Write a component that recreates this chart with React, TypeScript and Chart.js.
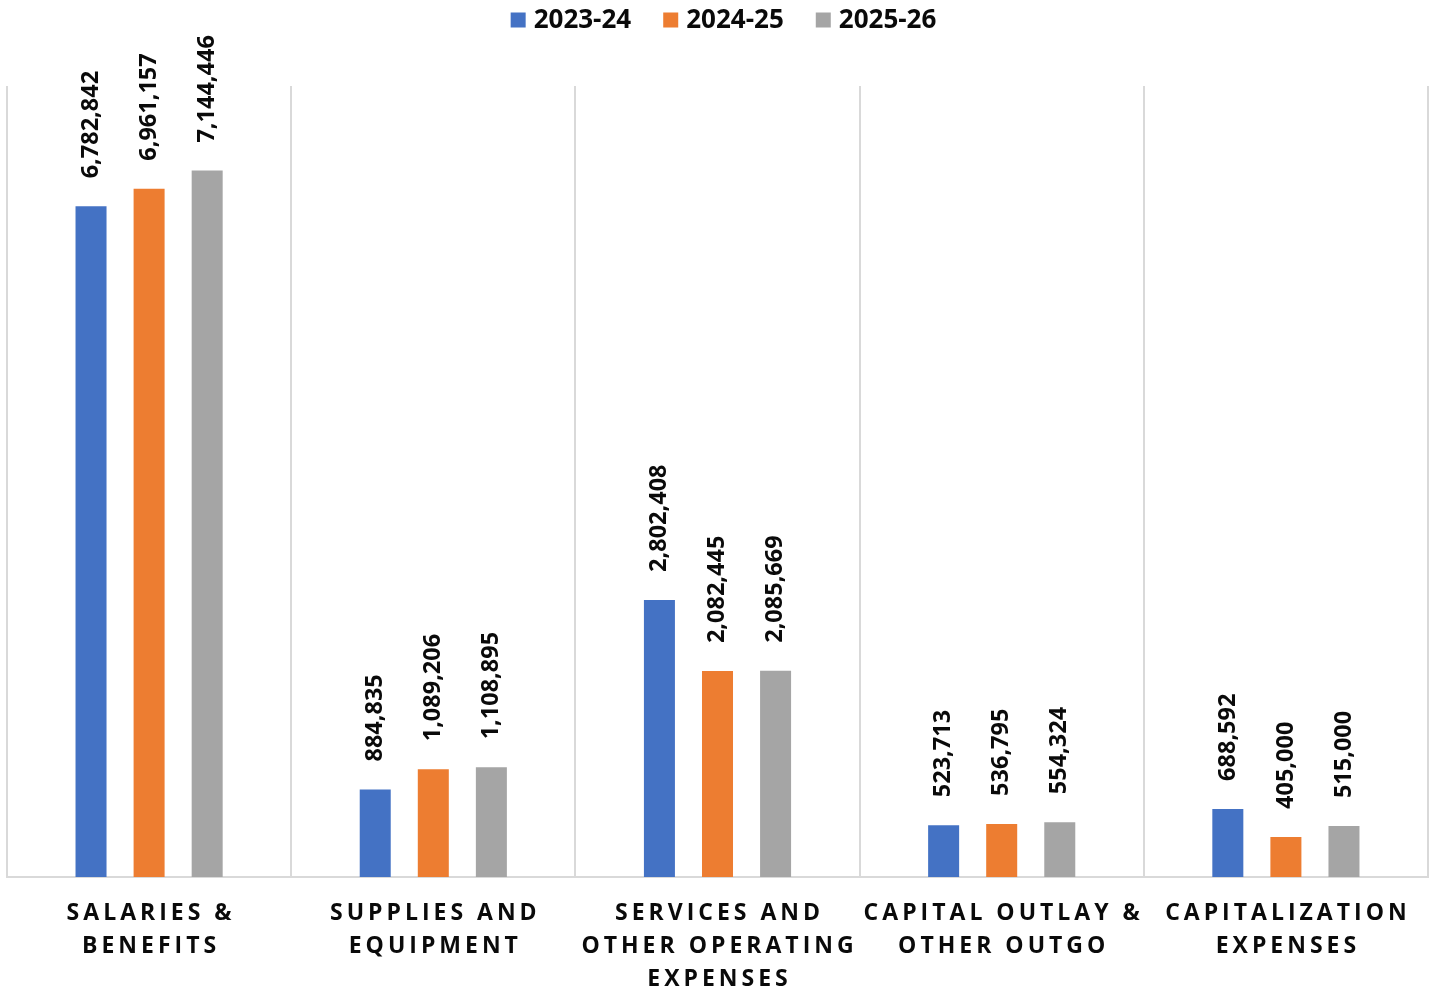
import React, { useEffect, useRef } from "react";
import { Chart, registerables } from "chart.js";

Chart.register(...registerables);

const categories: string[][] = [
  ["SALARIES &", "BENEFITS"],
  ["SUPPLIES AND", "EQUIPMENT"],
  ["SERVICES AND", "OTHER OPERATING", "EXPENSES"],
  ["CAPITAL OUTLAY &", "OTHER OUTGO"],
  ["CAPITALIZATION", "EXPENSES"],
];

const seriesNames = ["2023-24", "2024-25", "2025-26"];
const values2023 = [6782842, 884835, 2802408, 523713, 688592];
const values2024 = [6961157, 1089206, 2082445, 536795, 405000];
const values2025 = [7144446, 1108895, 2085669, 554324, 515000];
const seriesColors = ["#4472C4", "#ED7D31", "#A5A5A5"];

const FONT = "'Open Sans', 'DejaVu Sans', sans-serif";

const dataLabelPlugin = {
  id: "dataLabels",
  afterDatasetsDraw(chart: any) {
    const ctx = chart.ctx;
    ctx.save();
    ctx.font = `bold 23.5px ${FONT}`;
    ctx.fillStyle = "#0a0a0a";
    ctx.textAlign = "left";
    ctx.textBaseline = "middle";
    chart.data.datasets.forEach((ds: any, di: number) => {
      const meta = chart.getDatasetMeta(di);
      meta.data.forEach((bar: any, i: number) => {
        const v = ds.data[i];
        const txt = v.toLocaleString("en-US");
        ctx.save();
        ctx.translate(bar.x, bar.y - 28);
        ctx.rotate(-Math.PI / 2);
        ctx.fillText(txt, 0, 0);
        ctx.restore();
      });
    });
    ctx.restore();
  },
};

const xLabelPlugin = {
  id: "xLabels",
  afterDraw(chart: any) {
    const ctx = chart.ctx;
    const xs = chart.scales.x;
    const spacing = 4;
    ctx.save();
    ctx.font = `bold 23px ${FONT}`;
    (ctx as any).letterSpacing = `${spacing}px`;
    ctx.fillStyle = "#0a0a0a";
    ctx.textAlign = "center";
    ctx.textBaseline = "middle";
    categories.forEach((lines, i) => {
      const x = xs.getPixelForValue(i) + spacing / 2;
      lines.forEach((line, li) => {
        ctx.fillText(line, x, xs.top + 36 + li * 33);
      });
    });
    ctx.restore();
  },
};

const legendPlugin = {
  id: "customLegend",
  afterDraw(chart: any) {
    const ctx = chart.ctx;
    ctx.save();
    ctx.font = `bold 26px ${FONT}`;
    const box = 15;
    const gap = 8;
    const itemGap = 32;
    const widths = seriesNames.map((n) => ctx.measureText(n).width);
    const total =
      widths.reduce((a, b) => a + b, 0) + seriesNames.length * (box + gap) + itemGap * (seriesNames.length - 1);
    let x = chart.width / 2 + 6 - total / 2;
    const cy = 20;
    ctx.textAlign = "left";
    ctx.textBaseline = "middle";
    seriesNames.forEach((n, i) => {
      ctx.fillStyle = seriesColors[i];
      ctx.fillRect(x, cy - box / 2, box, box);
      x += box + gap;
      ctx.fillStyle = "#0a0a0a";
      ctx.fillText(n, x, cy + 1);
      x += widths[i] + itemGap;
    });
    ctx.restore();
  },
};

export default function App() {
  const canvasRef = useRef<HTMLCanvasElement | null>(null);

  useEffect(() => {
    if (!canvasRef.current) return;
    const allValues = [values2023, values2024, values2025];
    const chart = new Chart(canvasRef.current, {
      type: "bar",
      data: {
        labels: categories.map((c) => c.join(" ")),
        datasets: seriesNames.map((name, i) => ({
          label: name,
          data: allValues[i],
          backgroundColor: seriesColors[i],
          borderWidth: 0,
          categoryPercentage: 0.613,
          barPercentage: 0.534,
        })),
      },
      options: {
        animation: false,
        responsive: true,
        maintainAspectRatio: false,
        layout: { padding: { top: 86, left: 7, right: 7, bottom: 0 } },
        plugins: {
          legend: { display: false },
          tooltip: { enabled: false },
        },
        scales: {
          x: {
            grid: {
              display: true,
              offset: true,
              color: "#D9D9D9",
              lineWidth: 2,
              drawTicks: false,
            },
            border: { display: true, color: "#D9D9D9", width: 2 },
            ticks: { display: false },
            afterFit: (scale: any) => {
              scale.height = 113;
            },
          },
          y: {
            display: false,
            min: 0,
            max: 8000000,
          },
        },
      },
      plugins: [dataLabelPlugin, xLabelPlugin, legendPlugin],
    });
    return () => chart.destroy();
  }, []);

  return (
    <div style={{ position: "absolute", left: 0, top: 0, width: 1435, height: 990, background: "#fff" }}>
      <canvas ref={canvasRef} />
    </div>
  );
}
